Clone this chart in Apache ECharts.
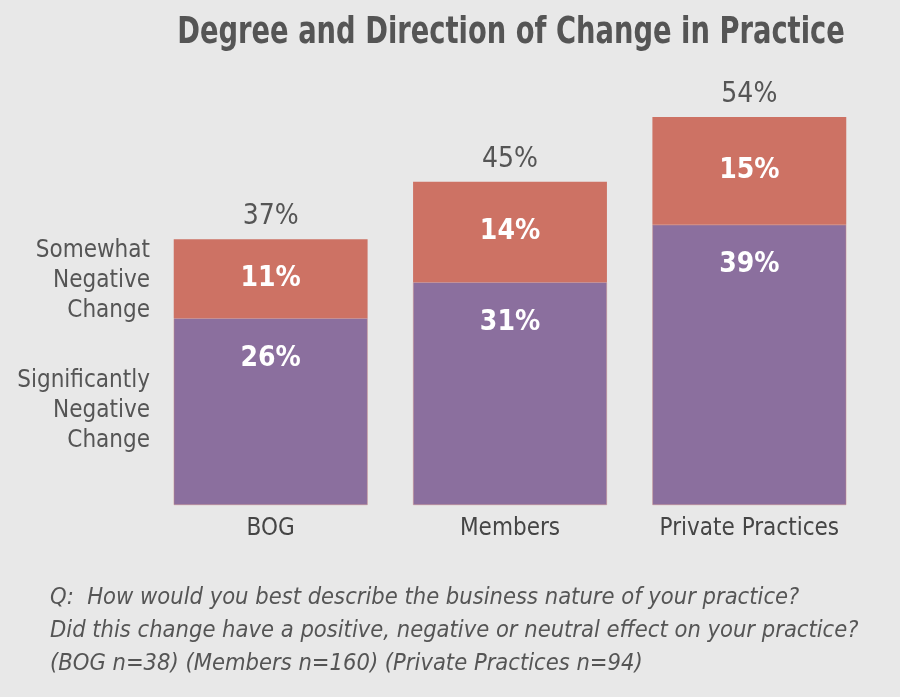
<!DOCTYPE html>
<html><head><meta charset="utf-8">
<script src="https://cdn.jsdelivr.net/npm/echarts@6/dist/echarts.min.js"></script>
<style>html,body{margin:0;padding:0;background:#e8e8e8;}#c{width:900px;height:697px;}</style>
</head><body><div id="c"></div>
<script>
var categories = ['BOG', 'Members', 'Private Practices'];
var significantlyNegative = [26, 31, 39];
var somewhatNegative = [11, 14, 15];
var totals = [37, 45, 54];
var seriesNames = ['Significantly\nNegative\nChange', 'Somewhat\nNegative\nChange'];
var titleText = 'Degree and Direction of Change in Practice';
var footnote = 'Q:  How would you best describe the business nature of your practice?\nDid this change have a positive, negative or neutral effect on your practice?\n(BOG n=38) (Members n=160) (Private Practices n=94)';

var FONT = '"DejaVu Sans Condensed", "Liberation Sans Narrow", sans-serif';
var chart = echarts.init(document.getElementById('c'));
chart.setOption({
  backgroundColor: '#e8e8e8',
  grid: {left: 151, right: 31, top: 74, bottom: 192},
  xAxis: {
    type: 'category', data: categories,
    axisLine: {show: false}, axisTick: {show: false},
    axisLabel: {interval: 0, fontFamily: FONT, fontSize: 24, color: '#454545', margin: 12}
  },
  yAxis: {type: 'value', min: 0, max: 60, show: false, splitLine: {show: false}},
  graphic: [
    {type: 'text', x: 511, y: 33, scaleX: 0.8, style: {text: titleText, fontFamily: FONT, fontWeight: 'bold', fontSize: 38, fill: '#555555', textAlign: 'center', textVerticalAlign: 'middle'}},
    {type: 'text', right: 750, top: 236, style: {text: seriesNames[1], fontFamily: FONT, fontSize: 24, lineHeight: 30, fill: '#555555', textAlign: 'right'}},
    {type: 'text', right: 750, top: 366, style: {text: seriesNames[0], fontFamily: FONT, fontSize: 24, lineHeight: 30, fill: '#555555', textAlign: 'right'}},
    {type: 'text', left: 50, top: 581, style: {text: footnote, fontFamily: FONT, fontStyle: 'italic', fontSize: 23.5, lineHeight: 33, fill: '#555555'}}
  ],
  series: [
    {
      name: 'Significantly Negative Change', type: 'bar', stack: 's', data: significantlyNegative,
      barWidth: '81%',
      itemStyle: {color: '#8b6f9e', borderColor: '#c98a8a', borderWidth: 0.5},
      label: {show: true, position: 'insideTop', distance: 26, formatter: '{c}%', color: '#ffffff', fontFamily: FONT, fontWeight: 'bold', fontSize: 28}
    },
    {
      name: 'Somewhat Negative Change', type: 'bar', stack: 's', data: somewhatNegative,
      itemStyle: {color: '#cd7264'},
      label: {show: true, position: 'inside', formatter: '{c}%', color: '#ffffff', fontFamily: FONT, fontWeight: 'bold', fontSize: 28}
    },
    {
      name: 'Total', type: 'bar', stack: 's', data: totals.map(function(){return 0;}),
      itemStyle: {color: 'transparent'},
      label: {show: true, position: 'top', distance: 8, color: '#555555', fontFamily: FONT, fontSize: 28,
        formatter: function(p){ return totals[p.dataIndex] + '%'; }}
    }
  ]
});
</script>
</body></html>
